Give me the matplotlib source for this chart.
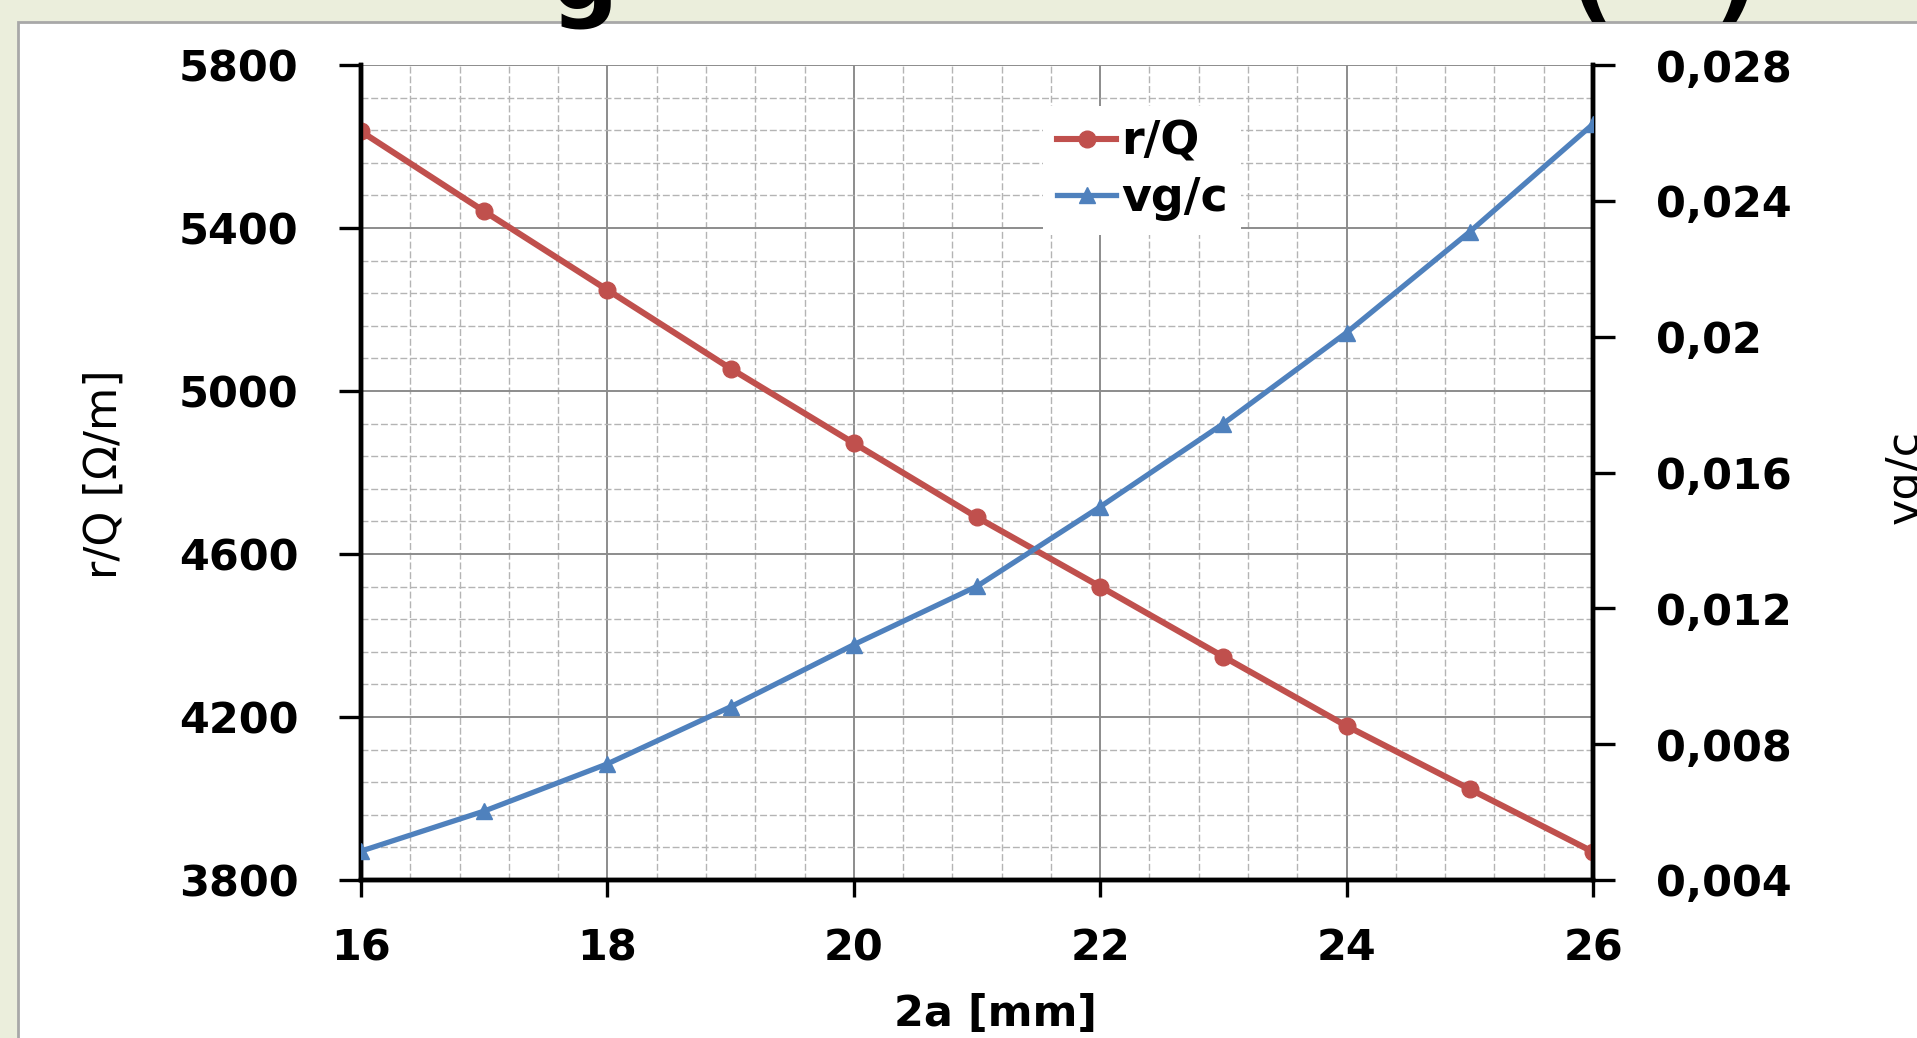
import matplotlib
matplotlib.use("Agg")
import matplotlib.pyplot as plt
import numpy as np
from matplotlib.ticker import FixedLocator
from matplotlib.lines import Line2D

# data
aperture = [16, 17, 18, 19, 20, 21, 22, 23, 24, 25, 26]          # 2a [mm]
r_over_q = [5637, 5441, 5248, 5055, 4872, 4690, 4520, 4348, 4178, 4023, 3869]
vg_over_c = [0.00485, 0.00603, 0.00742, 0.0091, 0.01093, 0.01265,
             0.01499, 0.01744, 0.02012, 0.02309, 0.02626]
vg_ticks = [0.004, 0.008, 0.012, 0.016, 0.02, 0.024, 0.028]
vg_tick_labels = ["0,004", "0,008", "0,012", "0,016", "0,02", "0,024", "0,028"]

red = "#C0504D"
blue = "#4F81BD"
W, H = 1917, 1038

fig = plt.figure(figsize=(W / 100, H / 100), dpi=100)
fig.patch.set_facecolor("#EBEEDC")

# white slide panel
panel = plt.Rectangle((18 / W, -0.1), 1.2, 1.1 - 22 / H, transform=fig.transFigure,
                      facecolor="white", edgecolor="#A8A8A8", lw=2, zorder=-5)
fig.patches.append(panel)

# cut off title, only the lower parts of a few glyphs show
for xpix, ch in [(585, "g"), (1591, "("), (1736, ")")]:
    fig.text(xpix / W, 1 - 10 / H, ch, fontsize=68, fontweight="bold", ha="center", va="baseline")

ax = fig.add_axes([361 / W, 158 / H, (1593 - 361) / W, (880 - 65) / H])
ax.set_facecolor("none")
ax2 = ax.twinx()

ax.plot(aperture, r_over_q, color=red, lw=4.4, marker="o", markersize=12, zorder=3)
ax2.plot(aperture, vg_over_c, color=blue, lw=3.8, marker="^", markersize=11, zorder=3)

ax.set_xlim(16, 26)
ax.set_ylim(3800, 5800)
ax2.set_ylim(0.004, 0.028)

ax.xaxis.set_major_locator(FixedLocator(np.arange(16, 26.01, 2)))
ax.xaxis.set_minor_locator(FixedLocator(np.arange(16, 26.01, 0.4)))
ax.yaxis.set_major_locator(FixedLocator(np.arange(3800, 5801, 400)))
ax.yaxis.set_minor_locator(FixedLocator(np.arange(3800, 5801, 80)))
ax2.yaxis.set_major_locator(FixedLocator(vg_ticks))
ax2.set_yticklabels(vg_tick_labels)

ax.grid(which="major", color="#8C8C8C", lw=1.4, ls="-")
ax.grid(which="minor", color="#B4B4B4", lw=1.0, ls=(0, (5, 2)))
ax.set_axisbelow(True)

for a in (ax, ax2):
    for s in a.spines.values():
        s.set_linewidth(3.2)
        s.set_color("black")
    a.spines["top"].set_visible(False)

ax.tick_params(axis="y", which="major", direction="out", length=16, width=2.4, pad=29,
               labelsize=31)
ax.tick_params(axis="x", which="major", direction="out", length=12, width=2.4, pad=22,
               labelsize=31)
ax.tick_params(which="minor", length=0)
ax2.tick_params(axis="y", which="major", direction="out", length=16, width=2.4, pad=29,
                labelsize=31)
for lab in ax.get_xticklabels() + ax.get_yticklabels() + ax2.get_yticklabels():
    lab.set_fontweight("bold")

fig.text(104 / W, 1 - 474 / H, "r/Q [Ω/m]", fontsize=32, rotation=90, ha="center", va="center")
fig.text(1905 / W, 1 - 477 / H, "vg/c", fontsize=32, rotation=90, ha="center", va="center")
fig.text(995 / W, 1 - 1014 / H, "2a [mm]", fontsize=31, fontweight="bold", ha="center", va="center")

handles = [Line2D([], [], color=red, lw=4.4, marker="o", markersize=12),
           Line2D([], [], color=blue, lw=3.8, marker="^", markersize=11)]
leg = ax2.legend(handles, ["r/Q", "vg/c"], loc="upper left", bbox_to_anchor=(0.535, 0.978),
                 prop={"size": 33, "weight": "bold"}, frameon=True, fancybox=False,
                 handlelength=1.3, handletextpad=0.1, labelspacing=0.25, borderpad=0.3)
leg.get_frame().set_facecolor("white")
leg.get_frame().set_edgecolor("none")
leg.get_frame().set_alpha(1)

fig.savefig("out.png", dpi=100, facecolor=fig.get_facecolor())
